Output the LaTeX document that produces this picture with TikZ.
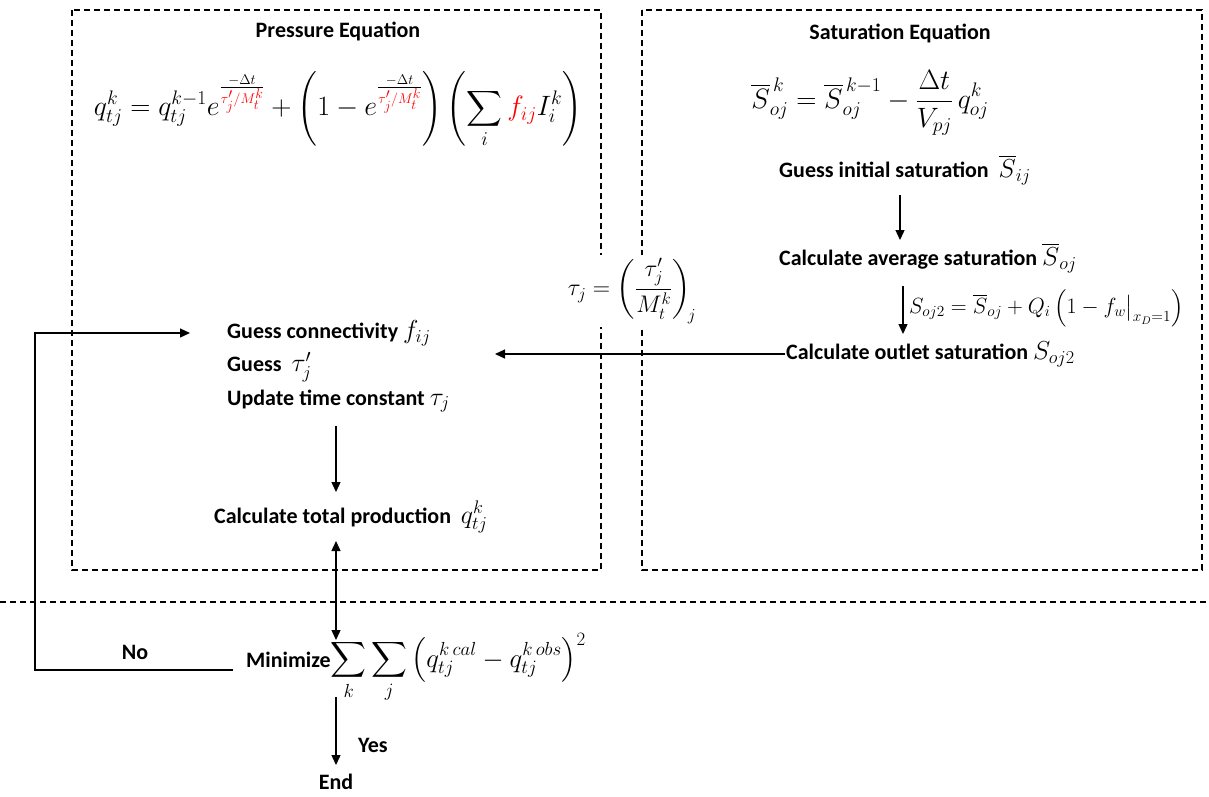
\RequirePackage{fix-cm}
\documentclass[tikz,border=0pt]{standalone}
\usepackage{amsmath}
\usepackage{fontspec}
\setmainfont{Carlito}
\usetikzlibrary{arrows.meta,calc}
\newcommand\lmath[1]{{\fontsize{26}{30}\selectfont$#1$}}
\begin{document}
\begin{tikzpicture}[x=1pt,y=-1pt,
  lbl/.style={font=\fontsize{22}{26}\selectfont\bfseries, inner sep=1pt},
  eqn/.style={font=\fontsize{28}{32}\selectfont, inner sep=1pt},
  boxline/.style={line width=1.1pt, dash pattern=on 6pt off 4pt},
  arr/.style={line width=1.3pt, -{Triangle[length=10pt,width=9pt]}},
  darr/.style={line width=1.3pt, {Triangle[length=10pt,width=9pt]}-{Triangle[length=10pt,width=9pt]}},
  plain/.style={line width=1.3pt}]
\useasboundingbox (0,0) rectangle (1209,796);
% boxes
\draw[boxline] (72,10) rectangle (601,570);
\draw[boxline] (642,10) rectangle (1202,570);
\draw[boxline] (0,602) -- (1209,602);
% titles
\node[lbl] (pt) at (338,31) {Pressure Equation};
\node[lbl] (st) at (900,33) {Saturation Equation};
% pressure equation
\node[eqn] (peq) at (338,110) {$\displaystyle q_{tj}^{k}=q_{tj}^{k-1}e^{\frac{-\Delta t}{\color{red}\tau'_j/M_t^k}}+\left(1-e^{\frac{-\Delta t}{\color{red}\tau'_j/M_t^k}}\right)\left(\sum_i {\color{red}f_{ij}}I_i^k\right)$};
% saturation equation
\node[eqn] (seq) at (870,103) {$\displaystyle \overline{S}_{oj}^{\,k}=\overline{S}_{oj}^{\,k-1}-\frac{\Delta t}{V_{pj}}\,q_{oj}^{k}$};
\node[lbl, anchor=west] (gis) at (778,170) {Guess initial saturation \ \lmath{\overline{S}_{ij}}};
\node[lbl, anchor=west] (cas) at (778,258) {Calculate average saturation \lmath{\overline{S}_{oj}}};
\node[eqn, font=\fontsize{22}{26}\selectfont, anchor=west] (oeq) at (908,308) {$S_{oj2}=\overline{S}_{oj}+Q_i\left(1-f_w\big|_{x_D=1}\right)$};
\node[lbl, anchor=west] (cos) at (785,354) {Calculate outlet saturation \lmath{S_{oj2}}};
\draw[arr] (900,195) -- (900,240);
\draw[arr] (903,286) -- (903,334);
% tau relation
\node[eqn, font=\fontsize{24}{28}\selectfont, fill=white, inner sep=3pt] (tau) at (632,291) {$\displaystyle \tau_j=\left(\frac{\tau'_j}{M_t^k}\right)_{\!j}$};
% left block
\node[lbl, anchor=west] (g1) at (226,333) {Guess connectivity \lmath{f_{ij}}};
\node[lbl, anchor=west] (g2) at (226,367) {Guess \ \lmath{\tau'_j}};
\node[lbl, anchor=west] (g3) at (226,401) {Update time constant \lmath{\tau_j}};
\node[lbl, anchor=west] (ctp) at (213,517) {Calculate total production \ \lmath{q_{tj}^{k}}};
\coordinate (tauin) at (495,354);
\draw[arr] (cos.west) -- (tauin);
\draw[arr] (336,426) -- (336,492);
% minimize
\node[lbl, anchor=west] (min) at (245,668) {Minimize{\fontsize{27}{30}\selectfont$\displaystyle\sum_k\sum_j\left(q_{tj}^{k\,cal}-q_{tj}^{k\,obs}\right)^{2}$}};
\draw[darr] (336,541) -- (336,640);
\coordinate (minl) at ($(min.west |- 0,670)+(-12,0)$);
\draw[arr] (minl) -- (35,670) -- (35,333) -- (190,333);
\node[lbl] (no) at (135,652) {No};
\node[lbl] (end) at (336,782) {End};
\node[lbl] (yes) at (373,745) {Yes};
\draw[arr] (336,697) -- (336,765);
\end{tikzpicture}
\end{document}
